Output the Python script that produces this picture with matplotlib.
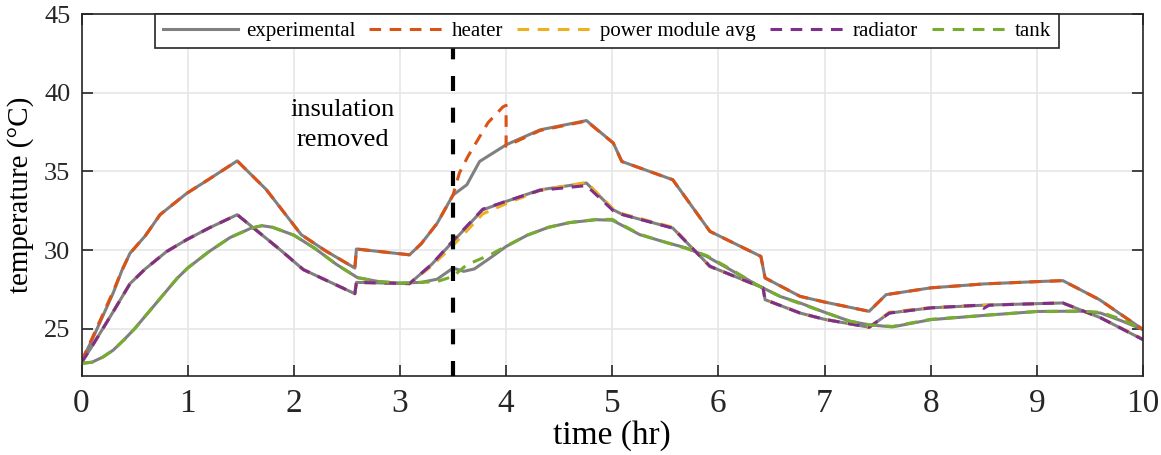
import matplotlib
matplotlib.use("Agg")
import matplotlib.pyplot as plt

plt.rcParams['font.family'] = ['Liberation Serif', 'DejaVu Serif']

# experimental curves (gray)
t_heat = [0, 0.1, 0.2, 0.3, 0.38, 0.457, 0.6, 0.74, 0.99, 1.2, 1.467, 1.74, 2.07, 2.3, 2.575, 2.59,
          3.09, 3.2, 3.35, 3.5, 3.63, 3.75, 4.0, 4.32, 4.757, 5.01, 5.09, 5.57, 5.92, 6.40, 6.44,
          6.77, 7.0, 7.42, 7.58, 8.0, 8.5, 9.01, 9.245, 9.59, 10]
exp_heat = [22.94, 24.3, 25.8, 27.3, 28.7, 29.8, 30.9, 32.25, 33.6, 34.5, 35.67, 33.85, 30.98, 29.95, 28.86, 30.07,
            29.7, 30.4, 31.7, 33.5, 34.15, 35.63, 36.69, 37.64, 38.23, 36.8, 35.63, 34.47, 31.19, 29.6, 28.23,
            27.06, 26.7, 26.11, 27.17, 27.6, 27.85, 28.0, 28.06, 26.85, 24.95]

t_mid = [0, 0.1, 0.2, 0.3, 0.457, 0.6, 0.8, 0.99, 1.2, 1.467, 1.87, 2.09, 2.3, 2.575, 2.59,
         3.09, 3.3, 3.5, 3.78, 4.0, 4.32, 4.757, 5.01, 5.1, 5.57, 5.92, 6.42, 6.44,
         6.77, 7.0, 7.42, 7.61, 8.0, 8.5, 9.01, 9.245, 9.6, 10]
exp_mid = [22.85, 23.9, 25.0, 26.1, 27.87, 28.8, 29.9, 30.66, 31.4, 32.25, 30.03, 28.76, 28.1, 27.23, 27.95,
           27.87, 29.1, 30.55, 32.56, 33.09, 33.83, 34.26, 32.56, 32.25, 31.4, 28.97, 27.6, 26.85,
           26.0, 25.6, 25.1, 26.0, 26.33, 26.5, 26.6, 26.64, 25.7, 24.31]

t_tank = [0, 0.1, 0.2, 0.3, 0.4, 0.5, 0.6, 0.7, 0.8, 0.9, 1.0, 1.2, 1.4, 1.5, 1.6, 1.7, 1.8, 2.0,
          2.2, 2.4, 2.6, 2.8, 3.0, 3.2, 3.35, 3.5, 3.6, 3.7, 3.85, 4.0, 4.2, 4.4, 4.6, 4.85, 5.0,
          5.26, 5.5, 5.7, 5.89, 6.1, 6.36, 6.58, 6.77, 7.0, 7.24, 7.42, 7.64, 8.0, 8.5, 9.0, 9.4,
          9.6, 9.8, 10]
exp_tank = [22.8, 22.88, 23.2, 23.65, 24.3, 25.0, 25.8, 26.6, 27.4, 28.2, 28.86, 29.9, 30.8, 31.1, 31.4, 31.55, 31.45, 30.95,
            30.1, 29.1, 28.25, 28.0, 27.9, 27.95, 28.15, 28.86, 28.65, 28.8, 29.5, 30.23, 30.95, 31.45, 31.75, 31.93, 31.9,
            30.98, 30.5, 30.13, 29.6, 28.8, 27.8, 27.06, 26.64, 26.05, 25.48, 25.25, 25.12, 25.58, 25.85, 26.1, 26.12,
            26.0, 25.5, 24.95]

# model curves (dashed)
t_heater_m = [0, 0.1, 0.2, 0.3, 0.38, 0.457, 0.6, 0.74, 0.99, 1.2, 1.467, 1.74, 2.07, 2.3, 2.575, 2.59,
              3.09, 3.2, 3.35, 3.5, 3.56, 3.64, 3.83, 3.97, 4.0, 4.0, 4.32, 4.757, 5.01, 5.09, 5.57, 5.92,
              6.40, 6.44, 6.77, 7.0, 7.42, 7.58, 8.0, 8.5, 9.01, 9.245, 9.59, 10]
heater_m = [22.94, 24.4, 25.9, 27.4, 28.7, 29.8, 30.9, 32.25, 33.6, 34.5, 35.67, 33.85, 30.98, 29.95, 28.86, 30.07,
            29.7, 30.4, 31.7, 33.5, 34.9, 35.95, 38.1, 39.1, 39.2, 36.6, 37.6, 38.2, 36.8, 35.63, 34.47, 31.19,
            29.6, 28.23, 27.06, 26.7, 26.11, 27.17, 27.6, 27.85, 28.0, 28.06, 26.85, 24.95]

t_pm_m = [0, 0.1, 0.2, 0.3, 0.457, 0.6, 0.8, 0.99, 1.2, 1.467, 1.87, 2.09, 2.3, 2.575, 2.59,
          3.09, 3.3, 3.5, 3.78, 4.0, 4.32, 4.757, 5.01, 5.1, 5.57, 5.92, 6.42, 6.44,
          6.77, 7.0, 7.42, 7.61, 8.0, 8.5, 9.01, 9.245, 9.6, 10]
pm_m = [22.85, 23.9, 25.0, 26.1, 27.87, 28.8, 29.9, 30.66, 31.4, 32.25, 30.03, 28.76, 28.1, 27.23, 27.95,
        27.87, 29.0, 30.3, 32.3, 32.95, 33.8, 34.3, 32.6, 32.3, 31.45, 28.95, 27.6, 26.85,
        26.0, 25.6, 25.1, 26.05, 26.35, 26.5, 26.6, 26.64, 25.7, 24.35]

t_rad_m = [0, 0.1, 0.2, 0.3, 0.457, 0.6, 0.8, 0.99, 1.2, 1.467, 1.87, 2.09, 2.3, 2.575, 2.59,
           3.09, 3.3, 3.5, 3.78, 4.0, 4.32, 4.757, 5.01, 5.1, 5.57, 5.92, 6.42, 6.44,
           6.77, 7.0, 7.42, 7.61, 8.0, 8.45, 8.5, 8.55, 9.01, 9.245, 9.6, 10]
rad_m = [22.85, 23.9, 25.0, 26.1, 27.87, 28.8, 29.9, 30.66, 31.4, 32.25, 30.03, 28.76, 28.1, 27.23, 27.95,
         27.87, 29.1, 30.6, 32.6, 33.1, 33.8, 34.1, 32.5, 32.25, 31.4, 28.97, 27.6, 26.85,
         26.0, 25.6, 25.1, 26.0, 26.33, 26.5, 26.3, 26.5, 26.6, 26.64, 25.7, 24.31]

t_tank_m = [0, 0.1, 0.2, 0.3, 0.4, 0.5, 0.6, 0.7, 0.8, 0.9, 1.0, 1.2, 1.4, 1.5, 1.6, 1.7, 1.8, 2.0,
            2.2, 2.4, 2.6, 2.8, 3.0, 3.2, 3.35, 3.5, 3.63, 3.85, 4.0, 4.2, 4.4, 4.6, 4.85, 5.0,
            5.26, 5.5, 5.7, 5.89, 6.1, 6.36, 6.58, 6.77, 7.0, 7.24, 7.42, 7.64, 8.0, 8.5, 9.0, 9.4,
            9.6, 9.8, 10]
tank_m = [22.8, 22.88, 23.2, 23.65, 24.3, 25.0, 25.8, 26.6, 27.4, 28.2, 28.86, 29.9, 30.8, 31.1, 31.4, 31.55, 31.45, 30.95,
          30.1, 29.1, 28.25, 28.0, 27.9, 27.95, 28.0, 28.33, 29.07, 29.7, 30.25, 30.95, 31.45, 31.75, 31.95, 31.95,
          31.0, 30.5, 30.1, 29.65, 28.85, 27.8, 27.06, 26.6, 26.05, 25.48, 25.25, 25.15, 25.6, 25.85, 26.1, 26.12,
          26.05, 25.6, 24.95]

t_insulation = 3.5

gray = (0.5, 0.5, 0.5)
c_heater = '#D95319'
c_pm = '#EDB120'
c_rad = '#7E2F8E'
c_tank = '#77AC30'
dark = (0.15, 0.15, 0.15)

fig = plt.figure(figsize=(11.61, 4.55), dpi=100)
ax = fig.add_axes([0.0702, 0.1736, 0.9143, 0.7956])

lw = 2.2
ax.plot(t_heat, exp_heat, color=gray, lw=lw, label='experimental')
ax.plot(t_mid, exp_mid, color=gray, lw=lw)
ax.plot(t_tank, exp_tank, color=gray, lw=lw)

ds = (0, (3.8, 2.8))
ax.plot(t_heater_m, heater_m, color=c_heater, lw=lw, ls=ds, label='heater')
ax.plot(t_pm_m, pm_m, color=c_pm, lw=lw, ls=ds, label='power module avg')
ax.plot(t_rad_m, rad_m, color=c_rad, lw=lw, ls=ds, label='radiator')
ax.plot(t_tank_m, tank_m, color=c_tank, lw=lw, ls=ds, label='tank')

ax.axvline(t_insulation, color='k', lw=3, ls=(0, (3.6, 4.0)), zorder=5)
ax.text(2.46, 37.93, 'insulation\nremoved', ha='center', va='center', fontsize=19,
        linespacing=1.45)

ax.set_xlim(0, 10)
ax.set_ylim(22, 45)
ax.set_xticks(range(0, 11))
ax.set_yticks([25, 30, 35, 40, 45])
ax.grid(True, color=(0.9, 0.9, 0.9), lw=1.2)
ax.set_axisbelow(True)
ax.tick_params(direction='in', length=8, width=1.2, top=True, right=True,
               colors=dark, labelcolor=dark)
ax.tick_params(axis='y', labelsize=19, pad=8)
ax.tick_params(axis='x', labelsize=24, pad=9)
for s in ax.spines.values():
    s.set_color(dark)
    s.set_linewidth(1.2)

ax.set_xlabel('time (hr)', fontsize=24, labelpad=1)
ax.set_ylabel('temperature (°C)', fontsize=21, labelpad=7)

leg = ax.legend(loc='upper center', bbox_to_anchor=(0.495, 1.0), ncol=5, fontsize=15,
                frameon=True, fancybox=False, edgecolor=dark, framealpha=1,
                borderaxespad=0, handlelength=3.6, columnspacing=0.65, handletextpad=0.4,
                borderpad=0.35)
leg.get_frame().set_linewidth(1.2)

fig.savefig('out.png', dpi=100)
